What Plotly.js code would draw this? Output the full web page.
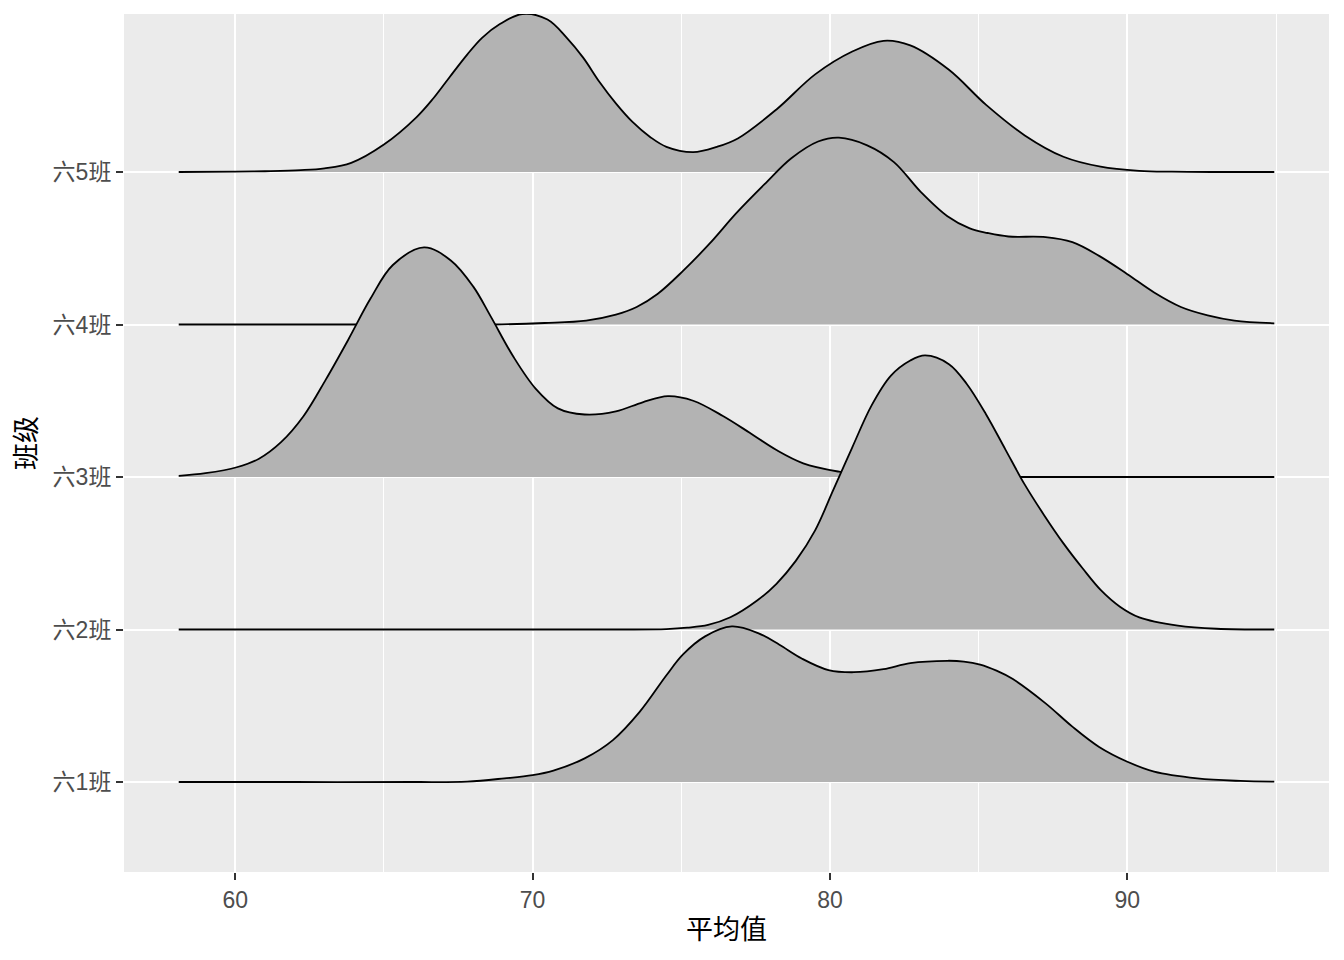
<!DOCTYPE html>
<html>
<head>
<meta charset="utf-8">
<script src="https://cdn.plot.ly/plotly-3.0.1.min.js"></script>
<style>html,body{margin:0;padding:0;background:#fff;}#chart{width:1344px;height:960px;}</style>
</head>
<body>
<div id="chart"></div>
<script>
// class labels (bottom to top)
const classes = ['六1班', '六2班', '六3班', '六4班', '六5班'];

// density ridges: x values (平均值) and ridge heights (in row units)
const x1 = [58.1, 62, 66, 67.8, 69.05, 70, 70.7, 71.75, 72.7, 73.6, 74.5, 75.05, 75.8, 76.7, 77.6, 78.3, 79.05, 79.95, 80.8, 81.8, 82.7, 83.95, 84.5, 85.05, 85.6, 86.15, 87.25, 88.15, 89.05, 90, 90.9, 92.35, 93.8, 94.94];
const h1 = [0, 0, 0, 0.003, 0.024, 0.045, 0.075, 0.155, 0.275, 0.46, 0.7, 0.835, 0.955, 1.02, 0.975, 0.9, 0.81, 0.734, 0.72, 0.74, 0.78, 0.795, 0.79, 0.77, 0.73, 0.675, 0.516, 0.363, 0.23, 0.133, 0.068, 0.024, 0.007, 0.002];

const x2 = [58.1, 62, 66, 70, 73, 74.5, 75.2, 75.9, 76.65, 77.55, 78.2, 78.85, 79.5, 80.1, 80.75, 81.4, 82.05, 82.7, 83.2, 84, 84.6, 85.25, 85.9, 86.55, 87.2, 87.85, 88.5, 89.1, 89.75, 90.4, 91.7, 93, 94.94];
const h2 = [0, 0, 0, 0, 0, 0.003, 0.012, 0.03, 0.08, 0.19, 0.3, 0.45, 0.65, 0.91, 1.195, 1.47, 1.665, 1.764, 1.797, 1.74, 1.61, 1.41, 1.18, 0.95, 0.75, 0.565, 0.4, 0.26, 0.15, 0.08, 0.026, 0.005, 0];

const x3 = [58.1, 59, 60.05, 60.8, 61.55, 62.3, 63.05, 63.8, 64.55, 65.3, 66.35, 67.25, 68, 68.6, 69.35, 70.1, 70.85, 71.75, 72.8, 73.7, 74.55, 75.4, 76.4, 77.3, 78.2, 79.1, 80.3, 81.2, 82.5, 85, 94.94];
const h3 = [0.007, 0.025, 0.064, 0.12, 0.23, 0.4, 0.64, 0.9, 1.17, 1.39, 1.506, 1.42, 1.25, 1.05, 0.79, 0.58, 0.45, 0.41, 0.43, 0.49, 0.53, 0.5, 0.4, 0.29, 0.177, 0.09, 0.035, 0.012, 0.003, 0, 0];

const x4 = [58.1, 62, 66, 68.7, 70.4, 71.8, 72.8, 73.5, 74.2, 75.05, 75.95, 76.85, 77.8, 78.7, 79.6, 80.3, 81.25, 82.15, 83.05, 83.95, 84.7, 85.3, 86, 87.25, 88.15, 89.05, 90, 90.9, 91.8, 92.7, 93.6, 94.94];
const h4 = [0, 0, 0, 0, 0.01, 0.026, 0.065, 0.115, 0.2, 0.35, 0.53, 0.73, 0.92, 1.09, 1.2, 1.225, 1.175, 1.065, 0.87, 0.71, 0.63, 0.6, 0.577, 0.573, 0.54, 0.45, 0.33, 0.21, 0.115, 0.06, 0.026, 0.008];

const x5 = [58.1, 60, 61, 62.2, 63, 63.9, 65, 66.1, 66.65, 67.2, 67.8, 68.3, 68.9, 69.65, 70.5, 71.15, 71.7, 72.25, 72.8, 73.35, 73.95, 74.5, 75.4, 76.2, 76.9, 78.2, 79.5, 80.75, 81.8, 82.7, 84, 85.25, 86.55, 87.85, 89.1, 90.4, 91.5, 93, 94.94];
const h5 = [0, 0.002, 0.005, 0.012, 0.024, 0.06, 0.18, 0.36, 0.48, 0.62, 0.77, 0.88, 0.97, 1.036, 1.0, 0.88, 0.75, 0.59, 0.45, 0.33, 0.23, 0.165, 0.13, 0.165, 0.22, 0.41, 0.64, 0.79, 0.86, 0.83, 0.67, 0.44, 0.24, 0.10, 0.035, 0.008, 0.002, 0, 0];

const xTicks = [60, 70, 80, 90];

const series = [
  {x: x1, h: h1}, {x: x2, h: h2}, {x: x3, h: h3}, {x: x4, h: h4}, {x: x5, h: h5}
];

const traces = [];
// draw top ridge first so lower ridges overlap it
for (let k = series.length - 1; k >= 0; k--) {
  const s = series[k];
  const base = k + 1;
  const xs = s.x;
  traces.push({
    type: 'scatter', mode: 'lines',
    x: [xs[0], xs[xs.length - 1]], y: [base, base],
    line: {width: 0, color: 'rgba(0,0,0,0)'},
    hoverinfo: 'skip', showlegend: false
  });
  traces.push({
    type: 'scatter', mode: 'lines',
    x: xs, y: s.h.map(v => base + v),
    fill: 'tonexty', fillcolor: '#B3B3B3',
    line: {color: '#000000', width: 1.8, shape: 'spline', smoothing: 1},
    name: classes[k], showlegend: false
  });
}

const fontFam = '"Liberation Sans", Arial, "Noto Sans CJK SC", sans-serif';

const layout = {
  width: 1344, height: 960,
  margin: {l: 124, r: 15, t: 14, b: 88},
  paper_bgcolor: '#FFFFFF',
  plot_bgcolor: '#EBEBEB',
  showlegend: false,
  font: {family: fontFam},
  xaxis: {
    range: [56.26, 96.78],
    tickvals: xTicks,
    ticktext: xTicks.map(String),
    showgrid: true, gridcolor: '#FFFFFF', gridwidth: 2,
    minor: {dtick: 5, tick0: 0, showgrid: true, gridcolor: '#FFFFFF', gridwidth: 1, ticks: ''},
    zeroline: false, showline: false,
    ticks: 'outside', ticklen: 7, tickwidth: 2, tickcolor: '#333333',
    tickfont: {size: 23, color: '#4D4D4D', family: fontFam},
    title: {text: '平均值', font: {size: 27, color: '#000000', family: fontFam}, standoff: 8}
  },
  yaxis: {
    range: [0.41, 6.036],
    tickvals: [1, 2, 3, 4, 5],
    ticktext: classes,
    showgrid: true, gridcolor: '#FFFFFF', gridwidth: 2,
    zeroline: false, showline: false,
    ticks: 'outside', ticklen: 7, tickwidth: 2, tickcolor: '#333333',
    tickfont: {size: 23, color: '#4D4D4D', family: fontFam},
    title: {text: '班级', font: {size: 27, color: '#000000', family: fontFam}, standoff: 8}
  }
};

Plotly.newPlot('chart', traces, layout, {displayModeBar: false, staticPlot: true});
</script>
</body>
</html>
